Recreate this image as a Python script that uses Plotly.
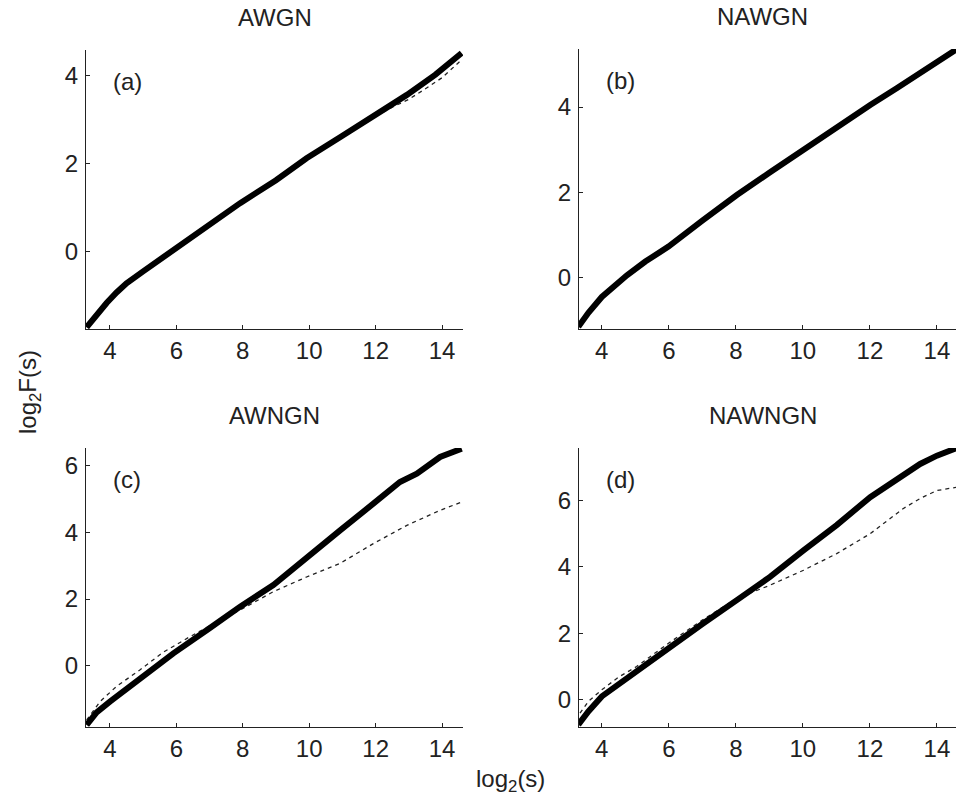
import plotly.graph_objects as go

# ---------------- data ----------------
# Panel (a) AWGN
a_solid_x = [3.30, 3.60, 3.90, 4.20, 4.50, 5.00, 5.91, 7.00, 7.92, 9.00, 9.92, 11.00, 11.93, 12.94, 13.80, 14.59]
a_solid_y = [-1.72, -1.43, -1.17, -0.93, -0.72, -0.45, 0.04, 0.60, 1.10, 1.62, 2.12, 2.63, 3.07, 3.56, 4.02, 4.51]
a_dash_x = [3.30, 4.50, 5.91, 7.92, 9.92, 11.93, 12.50, 13.00, 13.50, 14.00, 14.59]
a_dash_y = [-1.72, -0.72, 0.04, 1.10, 2.12, 3.05, 3.28, 3.46, 3.70, 3.95, 4.36]

# Panel (b) NAWGN
b_solid_x = [3.30, 3.60, 4.00, 4.40, 4.75, 5.30, 5.99, 7.00, 8.03, 9.00, 10.02, 11.00, 12.01, 12.80, 13.50, 14.40, 14.60]
b_solid_y = [-1.15, -0.82, -0.45, -0.16, 0.06, 0.38, 0.73, 1.34, 1.94, 2.46, 3.00, 3.53, 4.05, 4.44, 4.80, 5.28, 5.36]
b_dash_x = b_solid_x
b_dash_y = b_solid_y

# Panel (c) AWNGN
c_solid_x = [3.30, 3.60, 4.00, 4.40, 4.90, 5.91, 7.00, 7.92, 8.92, 9.92, 10.93, 11.93, 12.73, 13.24, 13.94, 14.59]
c_solid_y = [-1.78, -1.40, -1.08, -0.78, -0.43, 0.37, 1.12, 1.77, 2.42, 3.26, 4.06, 4.86, 5.51, 5.76, 6.26, 6.51]
c_dash_x = [3.30, 3.70, 4.20, 4.90, 5.60, 6.41, 7.20, 7.92, 8.92, 9.92, 10.93, 11.93, 12.94, 13.94, 14.59]
c_dash_y = [-1.63, -1.08, -0.62, -0.13, 0.40, 0.87, 1.30, 1.67, 2.22, 2.66, 3.07, 3.66, 4.21, 4.66, 4.91]

# Panel (d) NAWNGN
d_solid_x = [3.30, 3.60, 4.00, 4.55, 5.20, 5.99, 7.00, 8.03, 9.02, 10.02, 11.01, 12.01, 13.00, 13.50, 14.00, 14.60]
d_solid_y = [-0.75, -0.35, 0.10, 0.50, 1.00, 1.55, 2.28, 3.00, 3.70, 4.50, 5.26, 6.10, 6.76, 7.10, 7.35, 7.58]
d_dash_x = [3.35, 3.60, 4.00, 4.50, 5.04, 5.99, 7.00, 8.03, 9.02, 10.02, 11.01, 12.01, 13.00, 13.50, 14.00, 14.60]
d_dash_y = [-0.40, -0.05, 0.30, 0.68, 1.00, 1.70, 2.40, 3.05, 3.45, 3.90, 4.40, 5.00, 5.76, 6.06, 6.30, 6.40]

titles = ["AWGN", "NAWGN", "AWNGN", "NAWNGN"]
panel_labels = ["(a)", "(b)", "(c)", "(d)"]
x_ticks = [4, 6, 8, 10, 12, 14]
y_ticks = [[0, 2, 4], [0, 2, 4], [0, 2, 4, 6], [0, 2, 4, 6]]

# ---------------- layout geometry ----------------
W, H = 956, 803
FONT = "Liberation Sans, Arial, sans-serif"
FS = 24

def px_x(p):
    return p / W

def px_y(p):
    return 1 - p / H

panels = [
    dict(xd=(86, 463), yd=(50, 329), xr=[3.28, 14.63], yr=[-1.76, 4.58]),
    dict(xd=(579, 956), yd=(49, 329), xr=[3.32, 14.57], yr=[-1.20, 5.36]),
    dict(xd=(86, 463), yd=(448, 727), xr=[3.28, 14.63], yr=[-1.84, 6.53]),
    dict(xd=(579, 956), yd=(448, 727), xr=[3.32, 14.57], yr=[-0.82, 7.58]),
]

series = [
    (a_solid_x, a_solid_y, a_dash_x, a_dash_y),
    (b_solid_x, b_solid_y, b_dash_x, b_dash_y),
    (c_solid_x, c_solid_y, c_dash_x, c_dash_y),
    (d_solid_x, d_solid_y, d_dash_x, d_dash_y),
]

fig = go.Figure()
layout = {}
annotations = []

for i, (p, (sx, sy, dx, dy)) in enumerate(zip(panels, series)):
    n = "" if i == 0 else str(i + 1)
    xa, ya = "x" + n, "y" + n
    fig.add_trace(go.Scatter(x=dx, y=dy, mode="lines", xaxis=xa, yaxis=ya,
                             line=dict(color="#222", width=1.3, dash="4px,4px"),
                             showlegend=False))
    fig.add_trace(go.Scatter(x=sx, y=sy, mode="lines", xaxis=xa, yaxis=ya,
                             line=dict(color="black", width=6),
                             showlegend=False))
    common = dict(showgrid=False, zeroline=False, showline=True, linecolor="#222",
                  linewidth=1.3, ticks="inside", ticklen=4, tickcolor="#222",
                  tickfont=dict(family=FONT, size=FS, color="#222"), mirror=False)
    layout["xaxis" + n] = dict(common, domain=[px_x(p["xd"][0]), px_x(p["xd"][1])],
                               range=p["xr"], tickvals=x_ticks, anchor=ya,
                               ticklabelstandoff=0)
    layout["yaxis" + n] = dict(common, domain=[px_y(p["yd"][1]), px_y(p["yd"][0])],
                               range=p["yr"], tickvals=y_ticks[i], anchor=xa,
                               ticklabelstandoff=2)
    cx = (p["xd"][0] + min(p["xd"][1], 946)) / 2
    annotations.append(dict(text=titles[i], x=px_x(cx), y=px_y(p["yd"][0] - 32),
                            xref="paper", yref="paper", showarrow=False,
                            xanchor="center", yanchor="middle",
                            font=dict(family=FONT, size=FS, color="#222")))
    annotations.append(dict(text=panel_labels[i], x=px_x(p["xd"][0] + 41),
                            y=px_y(p["yd"][0] + 32), xref="paper", yref="paper",
                            showarrow=False, xanchor="center", yanchor="middle",
                            font=dict(family=FONT, size=FS, color="#222")))

annotations.append(dict(text="log<sub>2</sub>F(s)", x=px_x(30), y=px_y(392),
                        xref="paper", yref="paper", showarrow=False, textangle=-90,
                        xanchor="center", yanchor="middle",
                        font=dict(family=FONT, size=FS, color="#222")))
annotations.append(dict(text="log<sub>2</sub>(s)", x=px_x(510), y=px_y(780),
                        xref="paper", yref="paper", showarrow=False,
                        xanchor="center", yanchor="middle",
                        font=dict(family=FONT, size=FS, color="#222")))

fig.update_layout(width=W, height=H, margin=dict(l=0, r=0, t=0, b=0),
                  paper_bgcolor="white", plot_bgcolor="white",
                  annotations=annotations, **layout)

fig.write_html("out.html")
